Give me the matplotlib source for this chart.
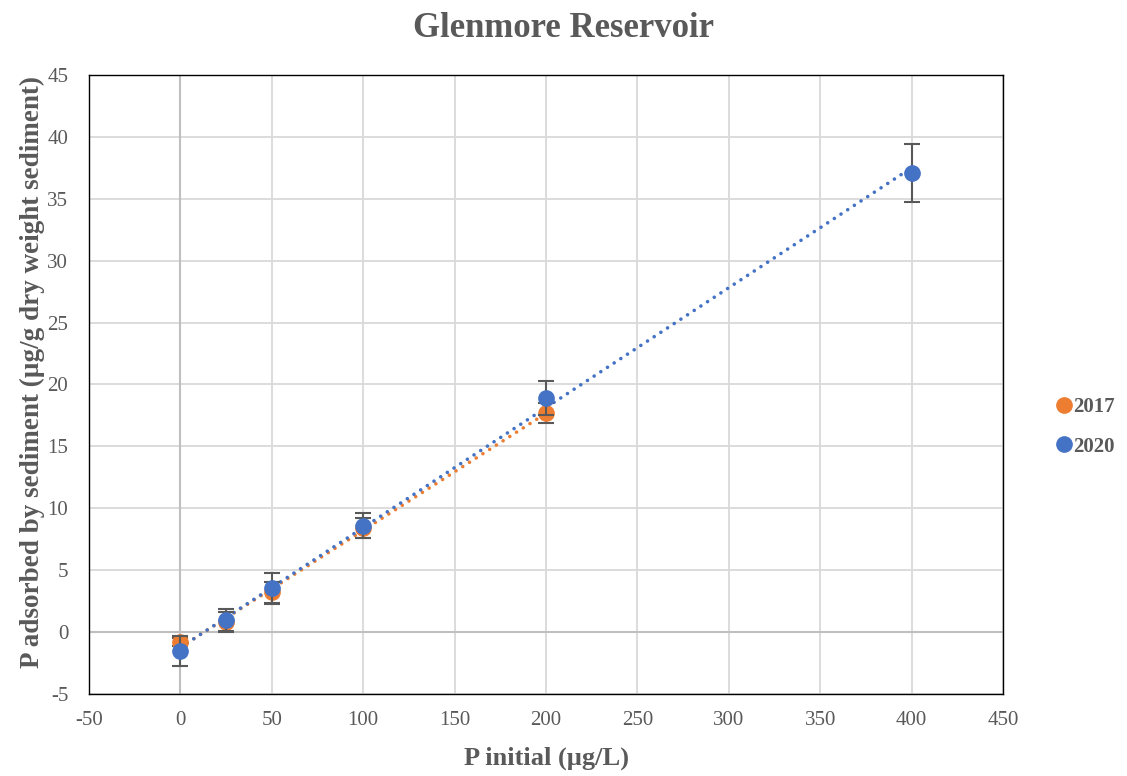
import numpy as np
import matplotlib.pyplot as plt

plt.rcParams['axes.unicode_minus'] = False

p_2017 = [0, 25, 50, 100, 200]
ads_2017 = [-0.8, 0.8, 3.2, 8.4, 17.7]
err_2017 = [0.3, 0.8, 0.85, 0.8, 0.8]

p_2020 = [0, 25, 50, 100, 200, 400]
ads_2020 = [-1.5, 0.95, 3.55, 8.6, 18.9, 37.1]
err_2020 = [1.2, 0.9, 1.25, 1.0, 1.4, 2.35]

orange = "#ED7D31"
blue = "#4472C4"
grey = "#595959"
serif = "Liberation Serif"

fig = plt.figure(figsize=(11.27, 7.76), dpi=100)
ax = fig.add_axes([0.079, 0.1057, 0.811, 0.7977])

ax.set_xlim(-50, 450)
ax.set_ylim(-5, 45)
ax.set_xticks(np.arange(-50, 451, 50))
ax.set_yticks(np.arange(-5, 46, 5))
ax.grid(True, color="#d9d9d9", linewidth=1.3)
ax.set_axisbelow(True)
ax.axhline(0, color="#bfbfbf", linewidth=1.5, zorder=1)
ax.axvline(0, color="#bfbfbf", linewidth=1.5, zorder=1)
for s in ax.spines.values():
    s.set_color("black")
    s.set_linewidth(1.0)
ax.tick_params(length=0, labelsize=15, labelcolor=grey)
ax.tick_params(axis="x", pad=12)
ax.tick_params(axis="y", pad=15)
for lab in ax.get_xticklabels() + ax.get_yticklabels():
    lab.set_fontfamily(serif)

# trendlines
for xs, ys, c in [(p_2017, ads_2017, orange), (p_2020, ads_2020, blue)]:
    k, b = np.polyfit(xs, ys, 1)
    xx = np.array([min(xs), max(xs)])
    ax.plot(xx, k * xx + b, color=c, linewidth=2.6, linestyle=(0, (0.01, 2.2)),
            dash_capstyle="round", zorder=3)

ax.errorbar(p_2017, ads_2017, yerr=err_2017, fmt="o", color=orange, markersize=11,
            ecolor=grey, elinewidth=1.5, capsize=6, capthick=1.5, zorder=4, label="2017")
ax.errorbar(p_2020, ads_2020, yerr=err_2020, fmt="o", color=blue, markersize=11,
            ecolor=grey, elinewidth=1.5, capsize=6, capthick=1.5, zorder=5, label="2020")

ax.set_xlabel("P initial (µg/L)", fontsize=19, fontweight="bold", color=grey,
              fontfamily=serif, labelpad=12)
ax.set_ylabel("P adsorbed by sediment (µg/g dry weight sediment)", fontsize=19.5,
              fontweight="bold", color=grey, fontfamily=serif)
ax.yaxis.set_label_coords(-0.048, 0.52)
fig.text(0.5, 0.963, "Glenmore Reservoir", ha="center", va="center", fontsize=25,
         fontweight="bold", color=grey, fontfamily=serif)

h, l = ax.get_legend_handles_labels()
h = [x[0] for x in h]
leg = fig.legend(h, l, loc="center left", bbox_to_anchor=(0.919, 0.45), frameon=False,
                 handletextpad=0.0, handlelength=0.9, labelspacing=0.95,
                 prop={"family": serif, "weight": "bold", "size": 15})
for t in leg.get_texts():
    t.set_color(grey)

fig.savefig("out.png", dpi=100)
